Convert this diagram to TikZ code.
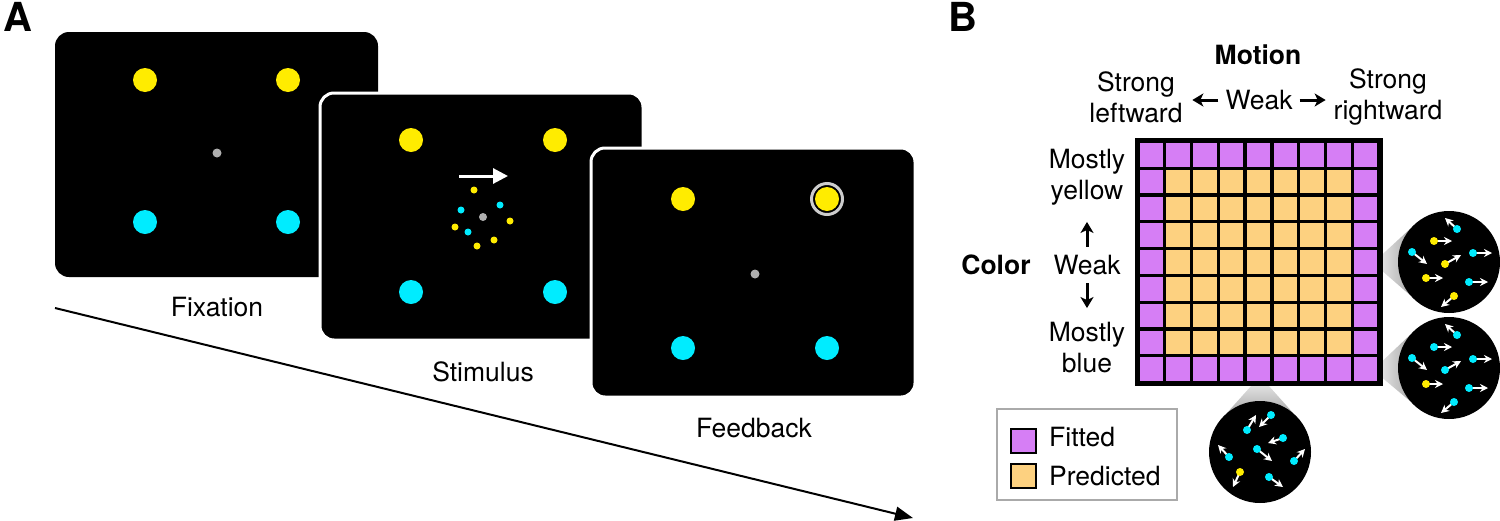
\documentclass[tikz,border=0pt]{standalone}
\usepackage{fontspec}
\setmainfont{TeX Gyre Heros}
\usetikzlibrary{arrows.meta}
\definecolor{ydot}{RGB}{255,236,0}
\definecolor{cdot}{RGB}{0,236,255}
\definecolor{fitc}{RGB}{214,126,245}
\definecolor{predc}{RGB}{253,209,128}
\definecolor{fixg}{RGB}{175,175,175}
\definecolor{ringg}{RGB}{205,205,205}
\definecolor{legg}{RGB}{170,170,170}
\pgfdeclarelayer{bg}
\pgfsetlayers{bg,main}
\begin{document}
\begin{tikzpicture}[x=1pt,y=-1pt,
  screen/.style={fill=black, rounded corners=14pt},
  screenw/.style={screen, draw=white, line width=3pt},
  lbl/.style={font=\fontsize{26.5}{31}\selectfont, align=center, inner sep=0pt},
  blbl/.style={font=\fontsize{26.5}{31}\selectfont\bfseries, align=center, inner sep=0pt},
  panel/.style={font=\fontsize{40}{40}\selectfont\bfseries, inner sep=0pt},
  barrow/.style={line width=3pt, -{Stealth[length=11pt,width=13pt,inset=3pt]}},
  warrow/.style={white, line width=2pt, -{Stealth[length=8pt,width=8pt]}},
  mag/.style={circle, fill=black, minimum size=102pt, inner sep=0pt},
  legsq/.style={draw=black, line width=2pt}]
\useasboundingbox (0,0) rectangle (1500,520);

% panel labels
\node[panel] (pa) at (18,17) {A};
\node[panel] (pb) at (963,17) {B};

% timeline
\coordinate (t0) at (55,308);
\coordinate (t1) at (913,518);
\draw[line width=2pt, -{Triangle[length=18pt,width=14pt]}] (t0) -- (t1);

% screen 1: fixation
\path[screen] (55,32) rectangle (378,277);
\fill[ydot] (145,80) circle (12);
\fill[ydot] (288,80) circle (12);
\fill[cdot] (145,222) circle (12);
\fill[cdot] (288,222) circle (12);
\fill[fixg] (217,153) circle (4.5);
\node[lbl] (fixl) at (217,307) {Fixation};

% screen 2: stimulus
\draw[screenw] (320,93) rectangle (643,340);
\fill[ydot] (411,140) circle (12);
\fill[ydot] (555,140) circle (12);
\fill[cdot] (411,292) circle (12);
\fill[cdot] (555,292) circle (12);
\coordinate (sa0) at (459,176);
\coordinate (sa1) at (508,176);
\draw[white, line width=3pt, -{Triangle[length=15pt,width=15pt]}] (sa0) -- (sa1);
\fill[fixg] (483,217) circle (4);
\foreach \x/\y in {474/190, 510/221, 455/227, 494/240, 477/246}
  \fill[ydot] (\x,\y) circle (3.5);
\foreach \x/\y in {500/205, 461/210, 468/232}
  \fill[cdot] (\x,\y) circle (3.5);
\node[lbl] (stiml) at (483,372) {Stimulus};

% screen 3: feedback
\draw[screenw] (591,148) rectangle (915,397);
\fill[ydot] (683,199) circle (12);
\fill[ydot] (827,199) circle (12);
\draw[ringg, line width=3pt] (827,199) circle (15.5);
\fill[cdot] (683,348) circle (12);
\fill[cdot] (827,348) circle (12);
\fill[fixg] (755,274) circle (4.5);
\node[lbl] (feedl) at (754,428) {Feedback};

% panel B: headings
\node[blbl] (motion) at (1258,55) {Motion};
\node[lbl] (sleft) at (1136,97) {Strong\\leftward};
\node[lbl] (wtop) at (1259,100) {Weak};
\node[lbl] (sright) at (1388,97) {Strong\\rightward};
\draw[barrow] (wtop.west) ++(-7,0) -- ++(-26,0);
\draw[barrow] (wtop.east) ++(7,0) -- ++(26,0);

\node[blbl] (colorl) at (996,265) {Color};
\node[lbl] (myel) at (1087,177) {Mostly\\yellow};
\node[lbl] (wside) at (1087,265) {Weak};
\node[lbl] (mblu) at (1087,348) {Mostly\\blue};
\draw[barrow] (wside.north) ++(0,-8) -- ++(0,-25);
\draw[barrow] (wside.south) ++(0,8) -- ++(0,25);

% grid
\fill[black] (1134.5,138) rectangle (1382.5,386);
\foreach \i in {0,...,8}{
  \foreach \j in {0,...,8}{
    \pgfmathtruncatemacro\edge{(\i==0)||(\i==8)||(\j==0)||(\j==8)}
    \ifnum\edge=1 \def\cc{fitc}\else\def\cc{predc}\fi
    \fill[\cc] (1139.5+\i*26.8,143+\j*26.8) rectangle ++(23.5,23.5);
  }
}

% legend
\draw[legg, line width=2pt] (997,409) rectangle (1177,500);
\draw[legsq, fill=fitc] (1011,429) rectangle (1036,453);
\node[lbl, anchor=west] (fitl) at (1049,437) {Fitted};
\draw[legsq, fill=predc] (1011,464) rectangle (1036,488);
\node[lbl, anchor=west] (predl) at (1049,476) {Predicted};

% magnifier circles
\node[mag] (m1) at (1449,262) {};
\node[mag] (m2) at (1449,368) {};
\node[mag] (m3) at (1260,452) {};
\coordinate (p1) at (1373,263);
\coordinate (p2) at (1373,370);
\coordinate (p3) at (1260,376);
\begin{pgfonlayer}{bg}
\shade[left color=gray!10, right color=gray!65] (p1) -- (m1.140) -- (m1.220) -- cycle;
\shade[left color=gray!10, right color=gray!65] (p2) -- (m2.140) -- (m2.220) -- cycle;
\shade[top color=gray!10, bottom color=gray!65] (p3) -- (m3.50) -- (m3.130) -- cycle;
\end{pgfonlayer}

\begin{scope}[shift={(1449,262)}]
\foreach \dx/\dy/\ax/\ay/\c in {8/-33/-12/-11/cdot, -15/-21/18/0/ydot, -37/-10/15/12/cdot,
  24/-9/19/0/cdot, -4/2/16/-9/ydot, -23/16/17/0/ydot, 20/20/19/0/cdot, 5/34/-13/11/ydot}{
  \draw[warrow] (\dx,\dy) -- ++(\ax,\ay);
  \fill[\c] (\dx,\dy) circle (4);
}
\end{scope}
\begin{scope}[shift={(1449,368)}]
\foreach \dx/\dy/\ax/\ay/\c in {8/-33/-12/-11/cdot, -15/-21/18/0/cdot, -37/-10/15/12/cdot,
  24/-9/19/0/cdot, -4/2/16/-9/cdot, -23/16/17/0/ydot, 20/20/19/0/cdot, 5/34/-13/11/cdot}{
  \draw[warrow] (\dx,\dy) -- ++(\ax,\ay);
  \fill[\c] (\dx,\dy) circle (4);
}
\end{scope}
\begin{scope}[shift={(1260,452)}]
\foreach \dx/\dy/\ax/\ay/\c in {11/-37/-12/12/cdot, -13/-22/9/-15/cdot, 23/-14/-15/5/cdot,
  -3/-3/15/12/cdot, -31/5/-11/-12/cdot, 34/9/11/-12/cdot, -20/20/-7/15/ydot, 9/25/14/10/cdot}{
  \draw[warrow] (\dx,\dy) -- ++(\ax,\ay);
  \fill[\c] (\dx,\dy) circle (4);
}
\end{scope}
\end{tikzpicture}
\end{document}
